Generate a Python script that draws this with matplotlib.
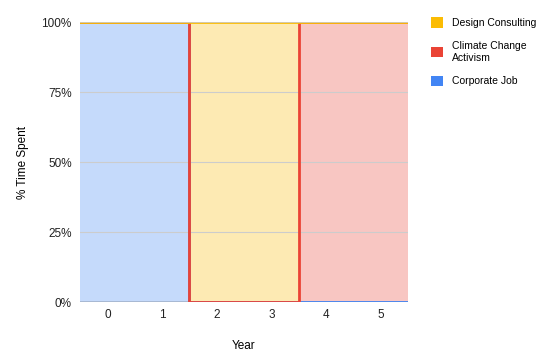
import matplotlib.pyplot as plt
import numpy as np
from matplotlib.patches import Patch

plt.rcParams['font.family'] = ['Liberation Sans', 'DejaVu Sans']

years = np.array([0, 1, 2, 3, 4, 5])
# stacking order bottom -> top
corporate = np.array([100, 100, 0, 0, 0, 0])
climate = np.array([0, 0, 0, 0, 100, 100])
design = np.array([0, 0, 100, 100, 0, 0])
names = ["Corporate Job", "Climate Change\nActivism", "Design Consulting"]
colors = ["#4285f4", "#ea4335", "#fbbc04"]
yticks = [0, 25, 50, 75, 100]

fig = plt.figure(figsize=(5.53, 3.62), dpi=100)
ax = fig.add_axes([0.1447, 0.1657, 0.593, 0.7735])

# step edges
xe = np.column_stack([years - 0.5, years + 0.5]).ravel()
bottom = np.zeros(len(xe))
tops = []
for vals, c in zip([corporate, climate, design], colors):
    top = bottom + np.repeat(vals, 2)
    ax.fill_between(xe, bottom, top, color=c, alpha=0.3, linewidth=0, zorder=1)
    tops.append(top)
    bottom = top

for y in yticks[1:-1]:
    ax.axhline(y, color="#cccccc", lw=0.8, zorder=2)
ax.axhline(0, color="#333333", lw=1, zorder=2)

for top, c in zip(tops, colors):
    ax.plot(xe, top, color=c, lw=2, zorder=3, solid_joinstyle='miter')
ax.axhline(100, color="#cccccc", lw=1.2, zorder=4)

ax.set_xlim(-0.5, 5.5)
ax.set_ylim(0, 100)
ax.set_xticks(years)
ax.set_yticks(yticks)
ax.set_yticklabels([f"{v}%" for v in yticks])
ax.tick_params(length=0, labelsize=8.5, colors="#222222", pad=6)
ax.tick_params(axis='x', pad=5)
for s in ax.spines.values():
    s.set_visible(False)
ax.set_xlabel("Year", fontsize=8.5, labelpad=14)
ax.set_ylabel("% Time Spent", fontsize=8.5, labelpad=9)

handles = [Patch(facecolor=c, edgecolor='none') for c in colors[::-1]]
fig.legend(handles, names[::-1], loc='upper left', bbox_to_anchor=(0.762, 0.978),
           frameon=False, fontsize=7.5, handlelength=1.15, handleheight=1.15,
           handletextpad=0.85, labelspacing=1.25)

fig.savefig("out.png", dpi=100)
